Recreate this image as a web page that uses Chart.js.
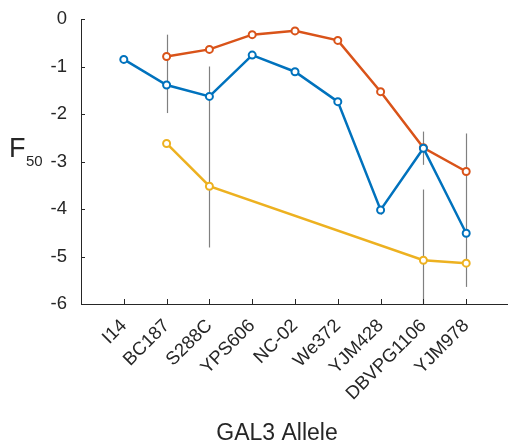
<!DOCTYPE html>
<html>
<head>
<meta charset="utf-8">
<script src="https://cdn.jsdelivr.net/npm/chart.js@4.4.1/dist/chart.umd.min.js"></script>
<style>
  html, body { margin: 0; padding: 0; background: #fff; overflow: hidden; }
  #wrap { width: 508px; height: 445px; overflow: hidden; }
</style>
</head>
<body>
<div id="wrap"><canvas id="myChart" width="515" height="445"></canvas></div>
<script>
const alleles = ["I14", "BC187", "S288C", "YPS606", "NC-02", "We372", "YJM428", "DBVPG1106", "YJM978"];
const blueValues = [-0.85, -1.39, -1.63, -0.76, -1.11, -1.74, -4.02, -2.72, -4.51];
const redValues = [null, -0.79, -0.64, -0.33, -0.25, -0.45, -1.53, -2.71, -3.21];
const yellowValues = [null, -2.62, -3.52, null, null, null, null, -5.08, -5.14];
const yTicks = [0, -1, -2, -3, -4, -5, -6];

// error bars (gray vertical lines)
const errAlleles = ["BC187", "S288C", "YJM428", "DBVPG1106", "DBVPG1106", "YJM978"];
const errLow = [-1.98, -4.81, -4.12, -3.07, -6.6, -5.64];
const errHigh = [-0.33, -1.0, -3.95, -2.37, -3.59, -2.41];

const FONT = "'Liberation Sans', Arial, sans-serif";

function toPoints(values) {
  return values.map((v, i) => ({ x: i + 1, y: v }));
}

function series(label, values, color) {
  return {
    label: label,
    data: toPoints(values),
    borderColor: color,
    backgroundColor: color,
    borderWidth: 2.5,
    pointRadius: 3.5,
    pointBorderWidth: 2,
    pointBackgroundColor: "#ffffff",
    pointBorderColor: color,
    spanGaps: true,
    tension: 0,
  };
}

const errorBars = {
  id: "errorBars",
  beforeDatasetsDraw(chart) {
    const ctx = chart.ctx;
    const xs = chart.scales.x;
    const ys = chart.scales.y;
    const area = chart.chartArea;
    ctx.save();
    ctx.beginPath();
    ctx.rect(area.left, area.top, area.right - area.left, area.bottom - area.top);
    ctx.clip();
    ctx.strokeStyle = "#808080";
    ctx.lineWidth = 1.2;
    errAlleles.forEach(function (name, i) {
      const px = Math.round(xs.getPixelForValue(alleles.indexOf(name) + 1)) + 0.5;
      ctx.beginPath();
      ctx.moveTo(px, ys.getPixelForValue(errHigh[i]));
      ctx.lineTo(px, ys.getPixelForValue(errLow[i]));
      ctx.stroke();
    });
    ctx.restore();
  },
};

const axisDecor = {
  id: "axisDecor",
  afterDraw(chart) {
    const ctx = chart.ctx;
    const xs = chart.scales.x;
    const ys = chart.scales.y;
    const area = chart.chartArea;
    ctx.save();
    ctx.strokeStyle = "#262626";
    ctx.lineWidth = 1;
    // inward ticks
    alleles.forEach(function (a, i) {
      const px = Math.round(xs.getPixelForValue(i + 1)) + 0.5;
      ctx.beginPath();
      ctx.moveTo(px, area.bottom);
      ctx.lineTo(px, area.bottom - 5);
      ctx.stroke();
    });
    yTicks.forEach(function (t) {
      const py = Math.round(ys.getPixelForValue(t)) + 0.5;
      ctx.beginPath();
      ctx.moveTo(area.left, py);
      ctx.lineTo(area.left + 4, py);
      ctx.stroke();
    });
    // axis titles
    ctx.fillStyle = "#262626";
    ctx.textBaseline = "alphabetic";
    ctx.textAlign = "center";
    ctx.font = "23px " + FONT;
    ctx.fillText("GAL3 Allele", 277, 440);
    ctx.textAlign = "left";
    ctx.font = "27px " + FONT;
    ctx.fillText("F", 9, 157);
    ctx.font = "15px " + FONT;
    ctx.fillText("50", 26, 166);
    ctx.restore();
  },
};

const config = {
  type: "line",
  data: {
    datasets: [
      series("blue", blueValues, "#0072BD"),
      series("red", redValues, "#D95319"),
      series("yellow", yellowValues, "#EDB120"),
    ],
  },
  options: {
    responsive: false,
    animation: false,
    devicePixelRatio: 1,
    layout: { padding: { top: 19, left: 0, right: 0, bottom: 0 } },
    plugins: {
      legend: { display: false },
      tooltip: { enabled: false },
    },
    scales: {
      x: {
        type: "linear",
        min: 0,
        max: 10,
        afterBuildTicks(scale) {
          scale.ticks = alleles.map((a, i) => ({ value: i + 1 }));
        },
        afterFit(scale) {
          scale.height = 141;
        },
        ticks: {
          autoSkip: false,
          maxRotation: 45,
          minRotation: 45,
          padding: 3,
          color: "#262626",
          font: { family: FONT, size: 18.5 },
          callback: (v) => alleles[v - 1],
        },
        grid: { display: false },
        border: { display: true, color: "#262626", width: 1 },
      },
      y: {
        min: -6,
        max: 0,
        afterBuildTicks(scale) {
          scale.ticks = yTicks.map((t) => ({ value: t }));
        },
        afterFit(scale) {
          scale.width = 81;
        },
        ticks: {
          padding: 6,
          color: "#262626",
          font: { family: FONT, size: 18.5 },
          callback: (v) => String(v),
        },
        grid: { display: false },
        border: { display: true, color: "#262626", width: 1 },
      },
    },
  },
  plugins: [errorBars, axisDecor],
};

const myChart = new Chart(document.getElementById("myChart"), config);
</script>
</body>
</html>
